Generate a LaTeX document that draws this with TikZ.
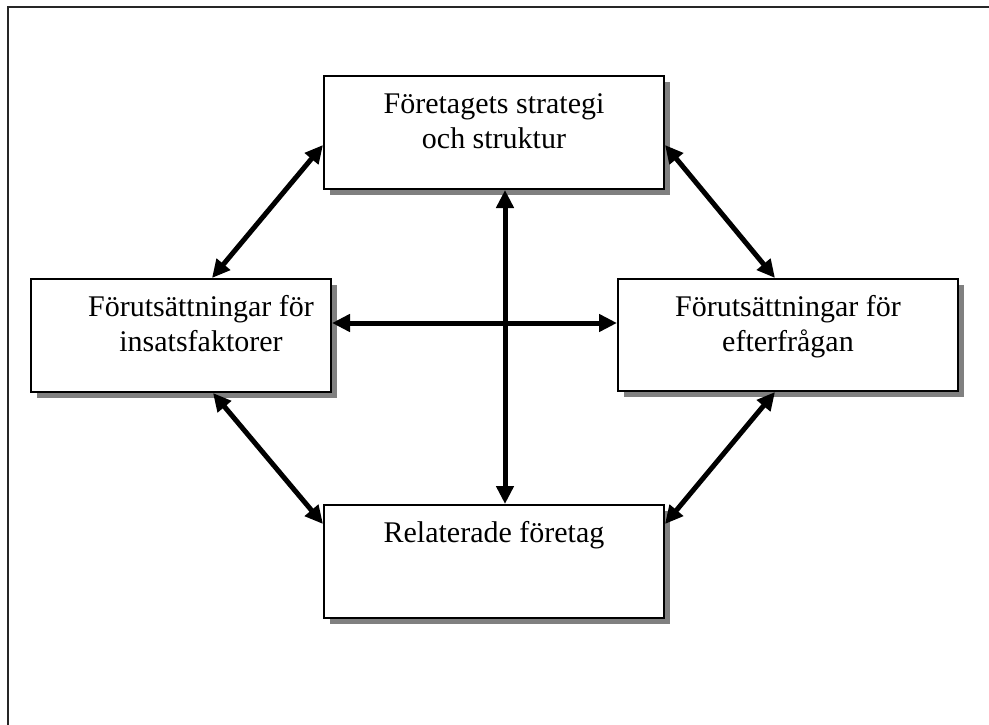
\documentclass[tikz,border=0pt]{standalone}
\usepackage{fontspec}
\setmainfont{Liberation Serif}
\usetikzlibrary{arrows.meta,calc,shadows}
\begin{document}
\begin{tikzpicture}[x=1pt,y=-1pt,
  box/.style={draw=black, line width=2pt, fill=white, rectangle, inner sep=0pt, anchor=north west,
    drop shadow={shadow xshift=6pt, shadow yshift=-6pt, fill=black!50, opacity=1}},
  txt/.style={anchor=north, inner sep=0pt, align=center, font=\fontsize{30}{35}\selectfont},
  arr/.style={line width=5pt, {Triangle[length=18pt,width=17pt]}-{Triangle[length=18pt,width=17pt]}}]
\useasboundingbox (0,0) rectangle (989,725);
\fill[white] (0,0) rectangle (989,725);
\draw[line width=2pt, black!85] (989,7) -- (8,7) -- (8,725);
% boxes
\node[box, minimum width=340pt, minimum height=113pt] (T) at (323,75) {};
\node[box, minimum width=300pt, minimum height=113pt] (L) at (30,278) {};
\node[box, minimum width=340pt, minimum height=112pt] (R) at (617,278) {};
\node[box, minimum width=340pt, minimum height=113pt] (B) at (323,504) {};
% texts
\node[txt] (Tt) at ($(T.north)+(0,8)$) {\rule{0pt}{30pt}Företagets strategi\\och struktur};
\node[txt] (Lt) at ($(L.north)+(20,8)$) {\rule{0pt}{30pt}Förutsättningar för\\insatsfaktorer};
\node[txt] (Rt) at ($(R.north)+(0,8)$) {\rule{0pt}{30pt}Förutsättningar för\\efterfrågan};
\node[txt] (Bt) at ($(B.north)+(0,8)$) {\rule{0pt}{30pt}Relaterade företag};
% connectors
\draw[arr] ($(L.north west)+(182,0)$) -- ($(T.north west)+(0,70)$);
\draw[arr] ($(T.north east)+(0,70)$) -- ($(R.north west)+(158,0)$);
\draw[arr] ($(L.south west)+(183,0)$) -- ($(B.north west)+(0,20)$);
\draw[arr] ($(R.south west)+(158,0)$) -- ($(B.north east)+(0,20)$);
\draw[arr] ($(T.south west)+(182,0)$) -- ($(B.north west)+(182,0)$);
\draw[arr] ($(L.north east)+(0,45)$) -- ($(R.north west)+(0,45)$);
\end{tikzpicture}
\end{document}
